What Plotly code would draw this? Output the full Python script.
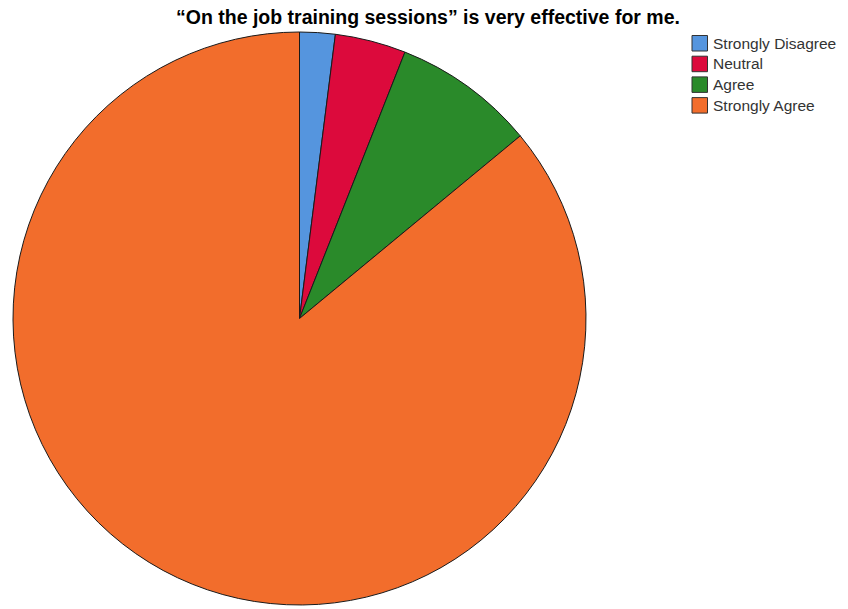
import plotly.graph_objects as go

# Survey responses
categories = ["Strongly Disagree", "Neutral", "Agree", "Strongly Agree"]
counts = [1, 2, 4, 43]
colors = ["#5595DE", "#DC0A3C", "#2A8A2A", "#F26D2C"]

W, H = 848, 609
FONT = "Liberation Sans, Arial, sans-serif"

fig = go.Figure(
    go.Pie(
        labels=categories,
        values=counts,
        sort=False,
        direction="clockwise",
        rotation=0,
        marker=dict(colors=colors, line=dict(color="#1a1a1a", width=1)),
        textinfo="none",
        hoverinfo="label+percent",
        showlegend=False,
        domain=dict(x=[13 / W, 586 / W], y=[1 - 605 / H, 1 - 32 / H]),
    )
)

# Compact legend: bordered colour squares with labels to the right
shapes = []
annotations = []
box_left, box_size, row_top, row_step = 692, 15.5, 35.5, 20.7
for i, (name, col) in enumerate(zip(categories, colors)):
    top = row_top + i * row_step
    shapes.append(
        dict(
            type="rect",
            xref="paper", yref="paper",
            x0=box_left / W, x1=(box_left + box_size) / W,
            y0=1 - (top + box_size) / H, y1=1 - top / H,
            fillcolor=col,
            line=dict(color="#333333", width=1),
        )
    )
    annotations.append(
        dict(
            text=name,
            xref="paper", yref="paper",
            x=(box_left + box_size + 3) / W,
            y=1 - (top + box_size / 2) / H,
            xanchor="left", yanchor="middle",
            showarrow=False,
            font=dict(family=FONT, size=15.5, color="#333333"),
        )
    )

annotations.append(
    dict(
        text="<b>\u201cOn the job training sessions\u201d is very effective for me.</b>",
        x=428 / W,
        y=1 - 17 / H,
        xref="paper",
        yref="paper",
        xanchor="center",
        yanchor="middle",
        showarrow=False,
        font=dict(family=FONT, size=19.5, color="#000000"),
    )
)

fig.update_layout(
    width=W,
    height=H,
    margin=dict(l=0, r=0, t=0, b=0),
    paper_bgcolor="white",
    plot_bgcolor="white",
    shapes=shapes,
    annotations=annotations,
)

fig.write_html("out.html")
